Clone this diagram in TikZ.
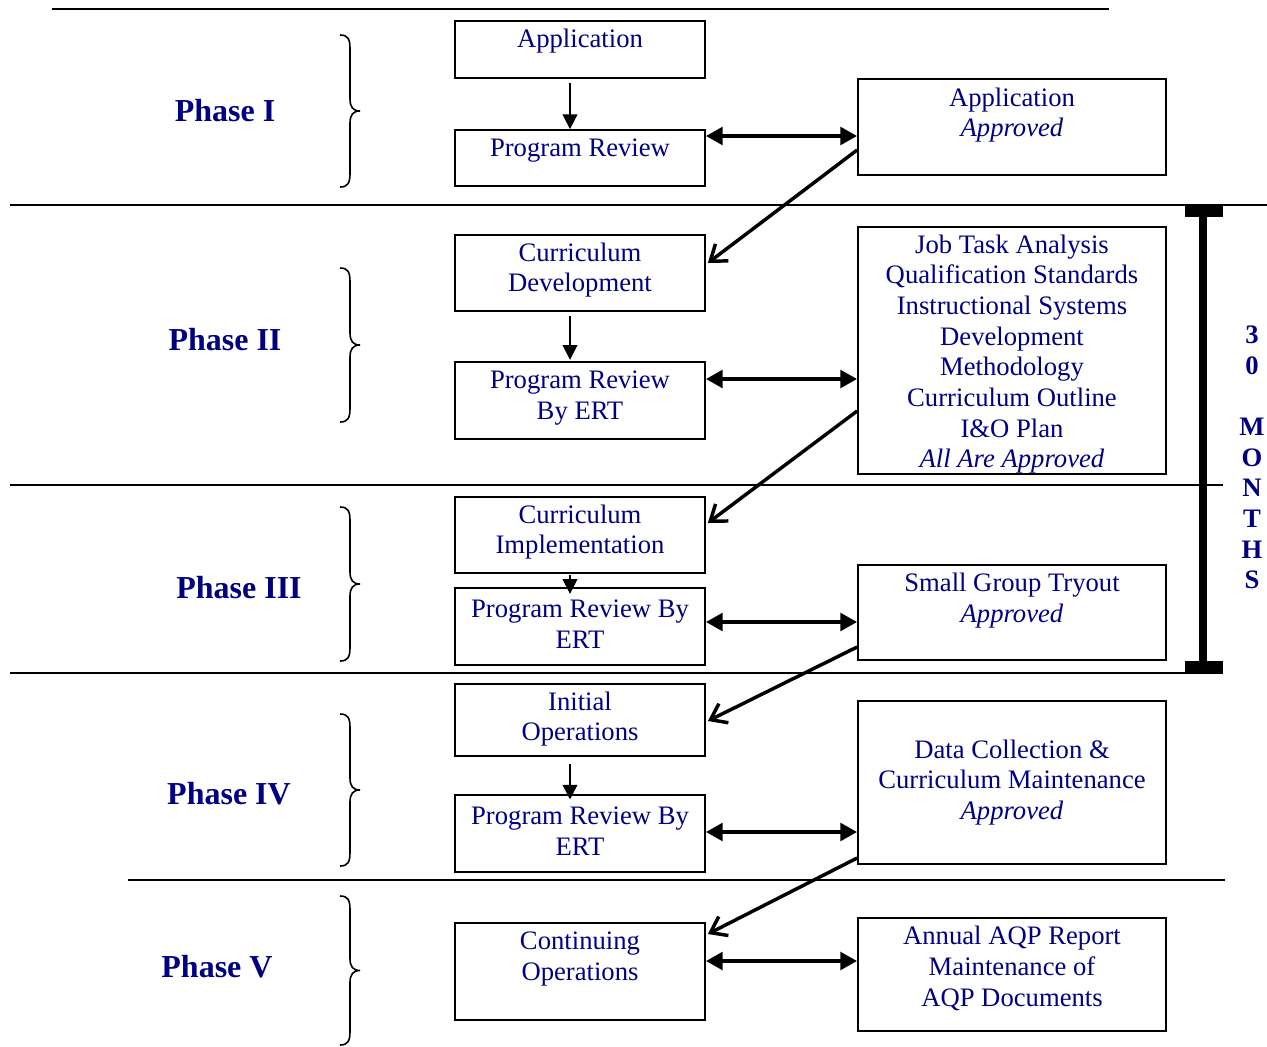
\documentclass[tikz,border=0pt]{standalone}
\usepackage{fontspec}
\setmainfont{Liberation Serif}
\usetikzlibrary{arrows.meta,fit}
\definecolor{navy}{RGB}{0,0,128}
\begin{document}
\begin{tikzpicture}[x=0.75pt,y=-0.75pt,
  box/.style={draw,line width=1.3pt,inner sep=0pt,fit={#1}},
  txt/.style={text=navy,align=center,inner sep=0pt,yshift=-1.9pt,font=\fontsize{20}{23}\selectfont},
  phase/.style={text=navy,inner sep=0pt,font=\fontsize{24}{28}\selectfont\bfseries},
  sep/.style={line width=1.1pt},
  brc/.style={line width=1.2pt},
  dbl/.style={{Triangle[length=12.5pt,width=13pt]}-{Triangle[length=12.5pt,width=13pt]},line width=3pt},
  diag/.style={-{Straight Barb[length=11pt,width=16pt]},line width=2.6pt},
  vert/.style={-{Triangle[length=11pt,width=11pt]},line width=1.2pt}]
\useasboundingbox (0,0) rectangle (1267,1046);

% separator lines
\draw[sep] (52,9) -- (1109,9);
\draw[sep] (10,205) -- (1267,205);
\draw[sep] (10,485) -- (1223,485);
\draw[sep] (10,673) -- (1223,673);
\draw[sep] (128,880) -- (1225,880);

% boxes
\node[box={(455,21) (705,78)}] (app) {};
\node[box={(455,130) (705,186)}] (pr1) {};
\node[box={(858,79) (1166,175)}] (aa) {};
\node[box={(455,235) (705,311)}] (cd) {};
\node[box={(455,362) (705,439)}] (pr2) {};
\node[box={(858,227) (1166,474)}] (jta) {};
\node[box={(455,497) (705,573)}] (ci) {};
\node[box={(455,588) (705,665)}] (pr3) {};
\node[box={(858,565) (1166,660)}] (sgt) {};
\node[box={(455,684) (705,756)}] (io) {};
\node[box={(455,795) (705,872)}] (pr4) {};
\node[box={(858,701) (1166,864)}] (dc) {};
\node[box={(455,923) (705,1020)}] (co) {};
\node[box={(858,918) (1166,1031)}] (aqp) {};

% texts
\node[txt] (appT) at (580,39) {Application};
\node[txt] (pr1T) at (580,148) {Program Review};
\node[txt] (aaT) at (1012,112.5) {Application\\\textit{Approved}};
\node[txt] (cdT) at (580,267.5) {Curriculum\\Development};
\node[txt] (pr2T) at (580,395.5) {Program Review\\By ERT};
\node[txt] (jtaT) at (1012,351.5) {Job Task Analysis\\Qualification Standards\\Instructional Systems\\Development\\Methodology\\Curriculum Outline\\I\&O Plan\\\textit{All Are Approved}};
\node[txt] (ciT) at (580,529.5) {Curriculum\\Implementation};
\node[txt] (pr3T) at (580,621.5) {Program Review By\\ERT};
\node[txt] (sgtT) at (1012,598) {Small Group Tryout\\\textit{Approved}};
\node[txt] (ioT) at (580,716.5) {Initial\\Operations};
\node[txt] (pr4T) at (580,828.5) {Program Review By\\ERT};
\node[txt] (dcT) at (1012,780) {Data Collection \&\\Curriculum Maintenance\\\textit{Approved}};
\node[txt] (coT) at (580,956.5) {Continuing\\Operations};
\node[txt] (aqpT) at (1012,966) {Annual AQP Report\\Maintenance of\\AQP Documents};

% phase labels
\node[phase] (p1) at (225,111) {Phase I};
\node[phase] (p2) at (225,340) {Phase II};
\node[phase] (p3) at (239,588) {Phase III};
\node[phase] (p4) at (229,794) {Phase IV};
\node[phase] (p5) at (217,967) {Phase V};

% braces
\foreach \t/\b in {35/187, 268/422, 507/661, 714/866, 896/1045} {
  \pgfmathsetmacro\m{(\t+\b)/2}
  \draw[brc] (340,\t) .. controls (348,\t) and (350,\t+4) .. (350,\t+14)
    -- (350,\m-12) .. controls (350,\m-4) and (353,\m) .. (360,\m)
    .. controls (353,\m) and (350,\m+4) .. (350,\m+12)
    -- (350,\b-14) .. controls (350,\b-4) and (348,\b) .. (340,\b);
}

% vertical arrows
\draw[vert] ([yshift=-3pt]app.south -| 570,0) -- (pr1.north -| 570,0);
\draw[vert] ([yshift=-3pt]cd.south -| 570,0) -- ([yshift=1pt]pr2.north -| 570,0);
\draw[vert] ([yshift=-1pt]ci.south -| 570,0) -- ([yshift=-5pt]pr3.north -| 570,0);
\draw[vert] ([yshift=-5pt]io.south -| 570,0) -- ([yshift=-4pt]pr4.north -| 570,0);

% double arrows
\draw[dbl] (pr1.east |- 0,136) -- (aa.west |- 0,136);
\draw[dbl] (pr2.east |- 0,379) -- (jta.west |- 0,379);
\draw[dbl] (pr3.east |- 0,622) -- (sgt.west |- 0,622);
\draw[dbl] (pr4.east |- 0,832) -- (dc.west |- 0,832);
\draw[dbl] (co.east |- 0,961) -- (aqp.west |- 0,961);

% diagonal arrows
\draw[diag] (aa.west |- 0,150) -- ([xshift=1.5pt]cd.east |- 0,263);
\draw[diag] (jta.west |- 0,411) -- ([xshift=1.5pt]ci.east |- 0,523);
\draw[diag] (sgt.west |- 0,647) -- ([xshift=1.5pt]io.east |- 0,721);
\draw[diag] (dc.west |- 0,858) -- ([xshift=1.5pt]co.east |- 0,934);

% 30 months bar
\draw[line width=6pt] (1203,211) -- (1203,667);
\fill (1185,205) rectangle (1223,217);
\fill (1185,661) rectangle (1223,673);
\node[txt,yshift=1.9pt,font=\fontsize{20}{23}\selectfont\bfseries] (months) at (1252,457.5) {3\\0\\[23pt]M\\O\\N\\T\\H\\S};
\end{tikzpicture}
\end{document}
